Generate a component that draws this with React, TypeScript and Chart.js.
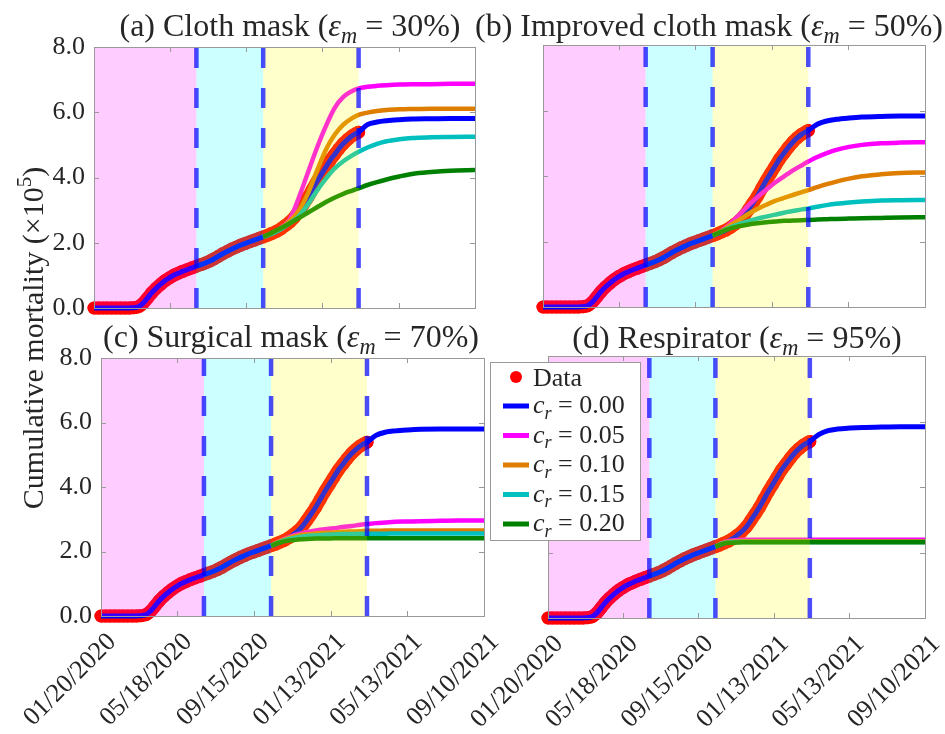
import React, { useEffect, useRef } from "react";
import { Chart, registerables } from "chart.js";
Chart.register(...registerables);

const FONT = "'Liberation Serif', 'Times New Roman', serif";
const TEXT = "#262626";
const FRAME = "#999999";

// x axis: days since 01/20/2020
const xTickDays = [0, 119, 239, 359, 479, 599];
const xTickLabels = ["01/20/2020", "05/18/2020", "09/15/2020", "01/13/2021", "05/13/2021", "09/10/2021"];
const yTickValues = [0, 2, 4, 6, 8];
const phaseBounds = [0, 161, 266, 416];
const phaseFills = ["rgba(255,0,255,0.2)", "rgba(0,255,255,0.2)", "rgba(255,255,0,0.2)"];
const dashedDays = [161, 266, 416];

// observed cumulative mortality (x 10^5)
const dataDays = [
  0, 7, 14, 21, 28, 35, 42, 49, 56, 63, 70, 77, 84, 91, 98, 105, 112, 119, 126, 133,
  140, 147, 154, 161, 168, 175, 182, 189, 196, 203, 210, 217, 224, 231, 238, 245, 252, 259, 266, 273,
  280, 287, 294, 301, 308, 315, 322, 329, 336, 343, 350, 357, 364, 371, 378, 385, 392, 399, 406, 413, 416,
];
const dataValues = [
  0, 0, 0, 0, 0, 0, 0, 0, 0.003, 0.01, 0.04, 0.14, 0.3, 0.47, 0.61, 0.73, 0.84, 0.93, 1.01, 1.07,
  1.13, 1.18, 1.23, 1.28, 1.33, 1.38, 1.44, 1.51, 1.59, 1.67, 1.74, 1.81, 1.87, 1.93, 1.98, 2.03, 2.08, 2.13, 2.18, 2.23,
  2.29, 2.35, 2.43, 2.53, 2.64, 2.78, 2.97, 3.17, 3.38, 3.62, 3.86, 4.08, 4.3, 4.52, 4.7, 4.88, 5.04, 5.17, 5.28, 5.36, 5.39,
];

// model projections
const tailDays = [430, 445, 460, 480, 500, 530, 560, 599];
const branchDays = [266, 280, 294, 308, 322, 336, 350, 364, 378, 392, 406, 416, 430, 445, 460, 480, 500, 530, 560, 599];

const crLabels = ["0.00", "0.05", "0.10", "0.15", "0.20"];
const crColors = ["rgb(0,0,255)", "rgb(255,0,255)", "rgb(222,125,0)", "rgb(0,191,191)", "rgb(0,128,0)"];

// panel (a) cloth mask 30%
const blueTailA = [5.62, 5.7, 5.74, 5.77, 5.79, 5.8, 5.81, 5.81];
const magentaA = [2.18, 2.3, 2.47, 2.72, 3.38, 4.13, 4.88, 5.55, 6.12, 6.47, 6.65, 6.73, 6.78, 6.81, 6.83, 6.85, 6.86, 6.86, 6.87, 6.87];
const orangeA = [2.18, 2.29, 2.44, 2.67, 2.98, 3.5, 4.18, 4.83, 5.3, 5.62, 5.82, 5.92, 5.99, 6.04, 6.07, 6.09, 6.1, 6.11, 6.11, 6.11];
const cyanA = [2.18, 2.28, 2.42, 2.6, 2.82, 3.16, 3.58, 3.95, 4.27, 4.5, 4.68, 4.79, 4.92, 5.03, 5.11, 5.17, 5.21, 5.23, 5.24, 5.25];
const greenA = [2.18, 2.31, 2.45, 2.6, 2.76, 2.92, 3.08, 3.24, 3.38, 3.5, 3.6, 3.67, 3.77, 3.86, 3.94, 4.03, 4.11, 4.17, 4.21, 4.23];

// panel (b) improved cloth mask 50%
const blueTailB = [5.58, 5.68, 5.73, 5.77, 5.8, 5.82, 5.83, 5.83];
const magentaB = [2.18, 2.33, 2.55, 2.82, 3.1, 3.35, 3.58, 3.8, 3.99, 4.17, 4.33, 4.44, 4.58, 4.7, 4.8, 4.89, 4.95, 5.0, 5.02, 5.03];
const orangeB = [2.18, 2.32, 2.5, 2.66, 2.84, 2.99, 3.12, 3.24, 3.33, 3.42, 3.51, 3.57, 3.66, 3.75, 3.83, 3.92, 3.99, 4.05, 4.09, 4.11];
const cyanB = [2.18, 2.3, 2.43, 2.53, 2.62, 2.7, 2.76, 2.82, 2.88, 2.93, 2.98, 3.01, 3.06, 3.11, 3.15, 3.19, 3.22, 3.25, 3.26, 3.27];
const greenB = [2.18, 2.3, 2.4, 2.47, 2.52, 2.56, 2.59, 2.61, 2.63, 2.64, 2.65, 2.66, 2.67, 2.68, 2.69, 2.7, 2.71, 2.72, 2.73, 2.74];

// panel (c) surgical mask 70%
const blueTailC = [5.6, 5.7, 5.74, 5.77, 5.79, 5.8, 5.8, 5.8];
const magentaC = [2.18, 2.33, 2.45, 2.54, 2.6, 2.65, 2.69, 2.72, 2.76, 2.79, 2.83, 2.85, 2.88, 2.9, 2.92, 2.93, 2.94, 2.95, 2.96, 2.96];
const orangeC = [2.18, 2.32, 2.42, 2.49, 2.53, 2.56, 2.58, 2.59, 2.61, 2.62, 2.63, 2.64, 2.64, 2.65, 2.65, 2.65, 2.65, 2.65, 2.65, 2.65];
const cyanC = [2.18, 2.3, 2.39, 2.44, 2.48, 2.5, 2.52, 2.53, 2.54, 2.54, 2.55, 2.55, 2.55, 2.55, 2.56, 2.56, 2.56, 2.56, 2.56, 2.56];
const greenC = [2.18, 2.28, 2.34, 2.37, 2.39, 2.4, 2.4, 2.41, 2.41, 2.41, 2.41, 2.41, 2.41, 2.41, 2.41, 2.41, 2.41, 2.41, 2.41, 2.41];

// panel (d) respirator 95%
const blueTailD = [5.6, 5.72, 5.77, 5.8, 5.82, 5.83, 5.84, 5.84];
const magentaD = [2.18, 2.32, 2.37, 2.39, 2.39, 2.39, 2.39, 2.39, 2.39, 2.39, 2.39, 2.39, 2.39, 2.39, 2.39, 2.39, 2.39, 2.39, 2.39, 2.39];
const orangeD = [2.18, 2.3, 2.33, 2.34, 2.34, 2.34, 2.34, 2.34, 2.34, 2.34, 2.34, 2.34, 2.34, 2.34, 2.34, 2.34, 2.34, 2.34, 2.34, 2.34];
const cyanD = [2.18, 2.29, 2.31, 2.32, 2.32, 2.32, 2.32, 2.32, 2.32, 2.32, 2.32, 2.32, 2.32, 2.32, 2.32, 2.32, 2.32, 2.32, 2.32, 2.32];
const greenD = [2.18, 2.28, 2.3, 2.31, 2.31, 2.31, 2.31, 2.31, 2.31, 2.31, 2.31, 2.31, 2.31, 2.31, 2.31, 2.31, 2.31, 2.31, 2.31, 2.31];

type Seg = { t: string; it?: boolean; sub?: boolean; sup?: boolean };

const titles: Seg[][] = [
  [{ t: "(a) Cloth mask (" }, { t: "ε", it: true }, { t: "m", it: true, sub: true }, { t: " = 30%)" }],
  [{ t: "(b) Improved cloth mask (" }, { t: "ε", it: true }, { t: "m", it: true, sub: true }, { t: " = 50%)" }],
  [{ t: "(c) Surgical mask (" }, { t: "ε", it: true }, { t: "m", it: true, sub: true }, { t: " = 70%)" }],
  [{ t: "(d) Respirator (" }, { t: "ε", it: true }, { t: "m", it: true, sub: true }, { t: " = 95%)" }],
];
const yTitle: Seg[] = [{ t: "Cumulative mortality (×10" }, { t: "5", sup: true }, { t: ")" }];

type Panel = {
  L: number; R: number; T: number; B: number;
  showX: boolean; showY: boolean;
  titleX: number; titleY: number;
  blueTail: number[]; branches: number[][];
};

const panels: Panel[] = [
  { L: 94, R: 475, T: 47, B: 308, showX: false, showY: true, titleX: 290, titleY: 36, blueTail: blueTailA, branches: [magentaA, orangeA, cyanA, greenA] },
  { L: 543, R: 925, T: 45, B: 307, showX: false, showY: false, titleX: 709, titleY: 36, blueTail: blueTailB, branches: [magentaB, orangeB, cyanB, greenB] },
  { L: 101, R: 484, T: 358, B: 616, showX: true, showY: true, titleX: 291, titleY: 347, blueTail: blueTailC, branches: [magentaC, orangeC, cyanC, greenC] },
  { L: 548, R: 925, T: 356, B: 618, showX: true, showY: false, titleX: 737, titleY: 348, blueTail: blueTailD, branches: [magentaD, orangeD, cyanD, greenD] },
];

function segFont(s: Seg, size: number) {
  const sz = s.sub || s.sup ? size * 0.7 : size;
  return `${s.it ? "italic " : ""}${sz}px ${FONT}`;
}
function drawRich(ctx: CanvasRenderingContext2D, segs: Seg[], x: number, y: number, size: number, align: "left" | "center") {
  let w = 0;
  for (const s of segs) { ctx.font = segFont(s, size); w += ctx.measureText(s.t).width; }
  let cx = align === "center" ? x - w / 2 : x;
  ctx.textAlign = "left";
  ctx.textBaseline = "alphabetic";
  ctx.fillStyle = TEXT;
  for (const s of segs) {
    ctx.font = segFont(s, size);
    const dy = s.sub ? size * 0.22 : s.sup ? -size * 0.4 : 0;
    ctx.fillText(s.t, cx, y + dy);
    cx += ctx.measureText(s.t).width;
  }
}

function makeConfig(p: number): any {
  const P = panels[p];
  const W = P.showY ? 60 : 10;
  const H = P.showX ? 110 : 10;
  const pts = (days: number[], vals: number[]) => days.map((d, i) => ({ x: d, y: vals[i] }));
  const blue = pts(dataDays, dataValues).concat(pts(tailDays, P.blueTail));
  const datasets: any[] = [
    {
      label: "Data", data: pts(dataDays, dataValues), showLine: true, borderColor: "rgb(255,0,0)", borderWidth: 13,
      borderCapStyle: "round", borderJoinStyle: "round", cubicInterpolationMode: "monotone",
      pointRadius: 6.5, pointBackgroundColor: "rgb(255,0,0)", pointBorderWidth: 0, clip: false, order: 6,
    },
    { label: `c_r = ${crLabels[0]}`, data: blue, borderColor: crColors[0], borderWidth: 5, pointRadius: 0, cubicInterpolationMode: "monotone", clip: false, order: 5 },
  ];
  P.branches.forEach((vals, k) => {
    datasets.push({ label: `c_r = ${crLabels[k + 1]}`, data: pts(branchDays, vals), borderColor: crColors[k + 1], borderWidth: 4.5, pointRadius: 0, cubicInterpolationMode: "monotone", clip: false, order: 4 - k });
  });

  const zeroPad = (s: any) => { s.paddingLeft = 0; s.paddingRight = 0; s.paddingTop = 0; s.paddingBottom = 0; };

  const overlay = {
    id: "overlay" + p,
    afterDatasetsDraw(chart: any) {
      const ctx: CanvasRenderingContext2D = chart.ctx;
      const { top, bottom } = chart.chartArea;
      const xs = chart.scales.x;
      ctx.save();
      for (let i = 0; i < phaseFills.length; i++) {
        const x0 = xs.getPixelForValue(phaseBounds[i]);
        const x1 = xs.getPixelForValue(phaseBounds[i + 1]);
        ctx.fillStyle = phaseFills[i];
        ctx.fillRect(x0, top, x1 - x0, bottom - top);
      }
      ctx.strokeStyle = "rgba(0,0,255,0.7)";
      ctx.lineWidth = 4.5;
      ctx.setLineDash([20, 20]);
      for (const d of dashedDays) {
        const x = xs.getPixelForValue(d);
        ctx.beginPath();
        ctx.moveTo(x, bottom);
        ctx.lineTo(x, top);
        ctx.stroke();
      }
      ctx.restore();
    },
    afterDraw(chart: any) {
      const ctx: CanvasRenderingContext2D = chart.ctx;
      const { left, right, top, bottom } = chart.chartArea;
      const xs = chart.scales.x;
      const ys = chart.scales.y;
      ctx.save();
      ctx.strokeStyle = FRAME;
      ctx.lineWidth = 1;
      ctx.strokeRect(Math.round(left) + 0.5, Math.round(top) + 0.5, Math.round(right - left), Math.round(bottom - top));
      ctx.beginPath();
      for (const d of xTickDays) {
        const x = Math.round(xs.getPixelForValue(d)) + 0.5;
        ctx.moveTo(x, bottom); ctx.lineTo(x, bottom - 5);
        ctx.moveTo(x, top); ctx.lineTo(x, top + 5);
      }
      for (const v of yTickValues) {
        const y = Math.round(ys.getPixelForValue(v)) + 0.5;
        ctx.moveTo(left, y); ctx.lineTo(left + 5, y);
        ctx.moveTo(right, y); ctx.lineTo(right - 5, y);
      }
      ctx.stroke();
      drawRich(ctx, titles[p], P.titleX, P.titleY, 32, "center");
      if (p === 0) {
        ctx.save();
        ctx.translate(43, 338);
        ctx.rotate(-Math.PI / 2);
        drawRich(ctx, yTitle, 0, 0, 30, "center");
        ctx.restore();
      }
      if (p === 3) {
        const bx = 490, by = 362, bw = 150, bh = 178;
        ctx.fillStyle = "#ffffff";
        ctx.fillRect(bx, by, bw, bh);
        ctx.strokeStyle = FRAME;
        ctx.lineWidth = 1;
        ctx.strokeRect(bx + 0.5, by + 0.5, bw, bh);
        const rowY = [377, 406, 435.5, 465, 494.5, 524];
        chart.data.datasets.forEach((ds: any, i: number) => {
          const y = rowY[i];
          if (i === 0) {
            ctx.fillStyle = "rgb(255,0,0)";
            ctx.beginPath();
            ctx.arc(516, y, 6, 0, Math.PI * 2);
            ctx.fill();
            drawRich(ctx, [{ t: ds.label }], 533, y + 9, 26, "left");
          } else {
            ctx.strokeStyle = ds.borderColor;
            ctx.lineWidth = 5;
            ctx.beginPath();
            ctx.moveTo(503, y); ctx.lineTo(529, y);
            ctx.stroke();
            const [c, rest] = ds.label.split("_");
            drawRich(ctx, [{ t: c, it: true }, { t: rest.slice(0, 1), it: true, sub: true }, { t: rest.slice(1) }], 533, y + 7, 26, "left");
          }
        });
      }
      ctx.restore();
    },
  };

  return {
    type: "line",
    data: { datasets },
    plugins: [overlay],
    options: {
      responsive: false,
      animation: false,
      devicePixelRatio: 1,
      events: [],
      layout: { padding: { left: P.L - W, right: 945 - P.R, top: P.T, bottom: 734 - P.B - H } },
      plugins: { legend: { display: false }, tooltip: { enabled: false }, title: { display: false } },
      scales: {
        x: {
          type: "linear", min: 0, max: 599,
          afterBuildTicks: (s: any) => { s.ticks = xTickDays.map((v) => ({ value: v })); },
          afterFit: (s: any) => { s.height = H; zeroPad(s); },
          grid: { display: false, drawTicks: false },
          border: { display: false },
          ticks: {
            display: P.showX, autoSkip: false, maxRotation: 45, minRotation: 45, padding: 11, labelOffset: 11,
            color: TEXT, font: { family: FONT, size: 26 },
            callback: (v: any) => { const i = xTickDays.indexOf(Number(v)); return i >= 0 ? xTickLabels[i] : ""; },
          },
        },
        y: {
          type: "linear", min: 0, max: 8,
          afterBuildTicks: (s: any) => { s.ticks = yTickValues.map((v) => ({ value: v })); },
          afterFit: (s: any) => { s.width = W; zeroPad(s); },
          grid: { display: false, drawTicks: false },
          border: { display: false },
          ticks: { display: P.showY, padding: 9, color: TEXT, font: { family: FONT, size: 26 }, callback: (v: any) => Number(v).toFixed(1) },
        },
      },
    },
  };
}

function PanelCanvas({ index }: { index: number }) {
  const ref = useRef<HTMLCanvasElement>(null);
  useEffect(() => {
    if (!ref.current) return;
    const chart = new Chart(ref.current, makeConfig(index));
    return () => chart.destroy();
  }, [index]);
  return <canvas ref={ref} width={945} height={734} style={{ position: "absolute", left: 0, top: 0, width: 945, height: 734 }} />;
}

export default function App() {
  return (
    <div style={{ position: "absolute", left: 0, top: 0, width: 945, height: 734, background: "#ffffff", overflow: "hidden" }}>
      {[0, 1, 2, 3].map((i) => <PanelCanvas key={i} index={i} />)}
    </div>
  );
}
